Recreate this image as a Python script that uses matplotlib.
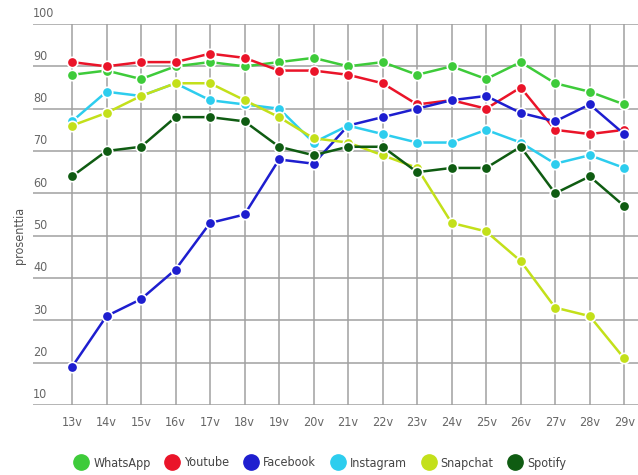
import matplotlib.pyplot as plt
from matplotlib.lines import Line2D

# ikäryhmät 13v - 29v
ika = list(range(13, 30))
ika_labels = [f"{i}v" for i in ika]

whatsapp = [88, 89, 87, 90, 91, 90, 91, 92, 90, 91, 88, 90, 87, 91, 86, 84, 81]
youtube = [91, 90, 91, 91, 93, 92, 89, 89, 88, 86, 81, 82, 80, 85, 75, 74, 75]
facebook = [19, 31, 35, 42, 53, 55, 68, 67, 76, 78, 80, 82, 83, 79, 77, 81, 74]
instagram = [77, 84, 83, 86, 82, 81, 80, 72, 76, 74, 72, 72, 75, 72, 67, 69, 66]
snapchat = [76, 79, 83, 86, 86, 82, 78, 73, 72, 69, 66, 53, 51, 44, 33, 31, 21]
spotify = [64, 70, 71, 78, 78, 77, 71, 69, 71, 71, 65, 66, 66, 71, 60, 64, 57]

nimet = ["WhatsApp", "Youtube", "Facebook", "Instagram", "Snapchat", "Spotify"]
sarjat = [whatsapp, youtube, facebook, instagram, snapchat, spotify]
varit = ["#3ecb3a", "#ea1429", "#1e1ecf", "#2dcdee", "#c3e01a", "#0f5c12"]

plt.rcParams['font.family'] = ['DejaVu Sans']
plt.rcParams['font.stretch'] = 'condensed'

fig = plt.figure(figsize=(6.38, 4.75), dpi=100)
ax = fig.add_axes([33 / 638, 1 - 405 / 475, (638 - 33) / 638, (405 - 24) / 475])

for y in range(10, 101, 10):
    ax.axhline(y, color="#a0a0a0", lw=1.1, zorder=0)
for x in ika:
    ax.axvline(x, color="#a0a0a0", lw=1.1, zorder=0)

for nimi, arvot, vari in zip(nimet, sarjat, varit):
    ax.plot(ika, arvot, color=vari, lw=1.8, marker="o", markersize=7.5,
            markeredgecolor="white", markeredgewidth=1.2, label=nimi)

ax.set_xlim(11.87, 29.4)
ax.set_ylim(10, 100)
for s in ax.spines.values():
    s.set_visible(False)
ax.set_xticks(ika)
ax.set_xticklabels(ika_labels, fontsize=9, color="#666666")
ax.tick_params(axis="x", length=0, pad=8)
ax.set_yticks([])
for y in range(10, 101, 10):
    ax.text(0, y + 0.9, str(y), transform=ax.get_yaxis_transform(),
            ha="left", va="bottom", fontsize=9, color="#666666")

fig.text(20 / 638, 1 - 235 / 475, "prosenttia", rotation=90, ha="center",
         va="center", fontsize=9, color="#555555")

kahvat = [Line2D([], [], color=v, marker="o", linestyle="", markersize=11)
          for v in varit]
fig.legend(kahvat, nimet, loc="center", bbox_to_anchor=(0.5, 1 - 463 / 475),
           ncol=6, frameon=False, fontsize=9, handletextpad=0.2,
           handlelength=1.5, columnspacing=1.0, labelcolor="#444444")

fig.savefig("out.png", dpi=100)
